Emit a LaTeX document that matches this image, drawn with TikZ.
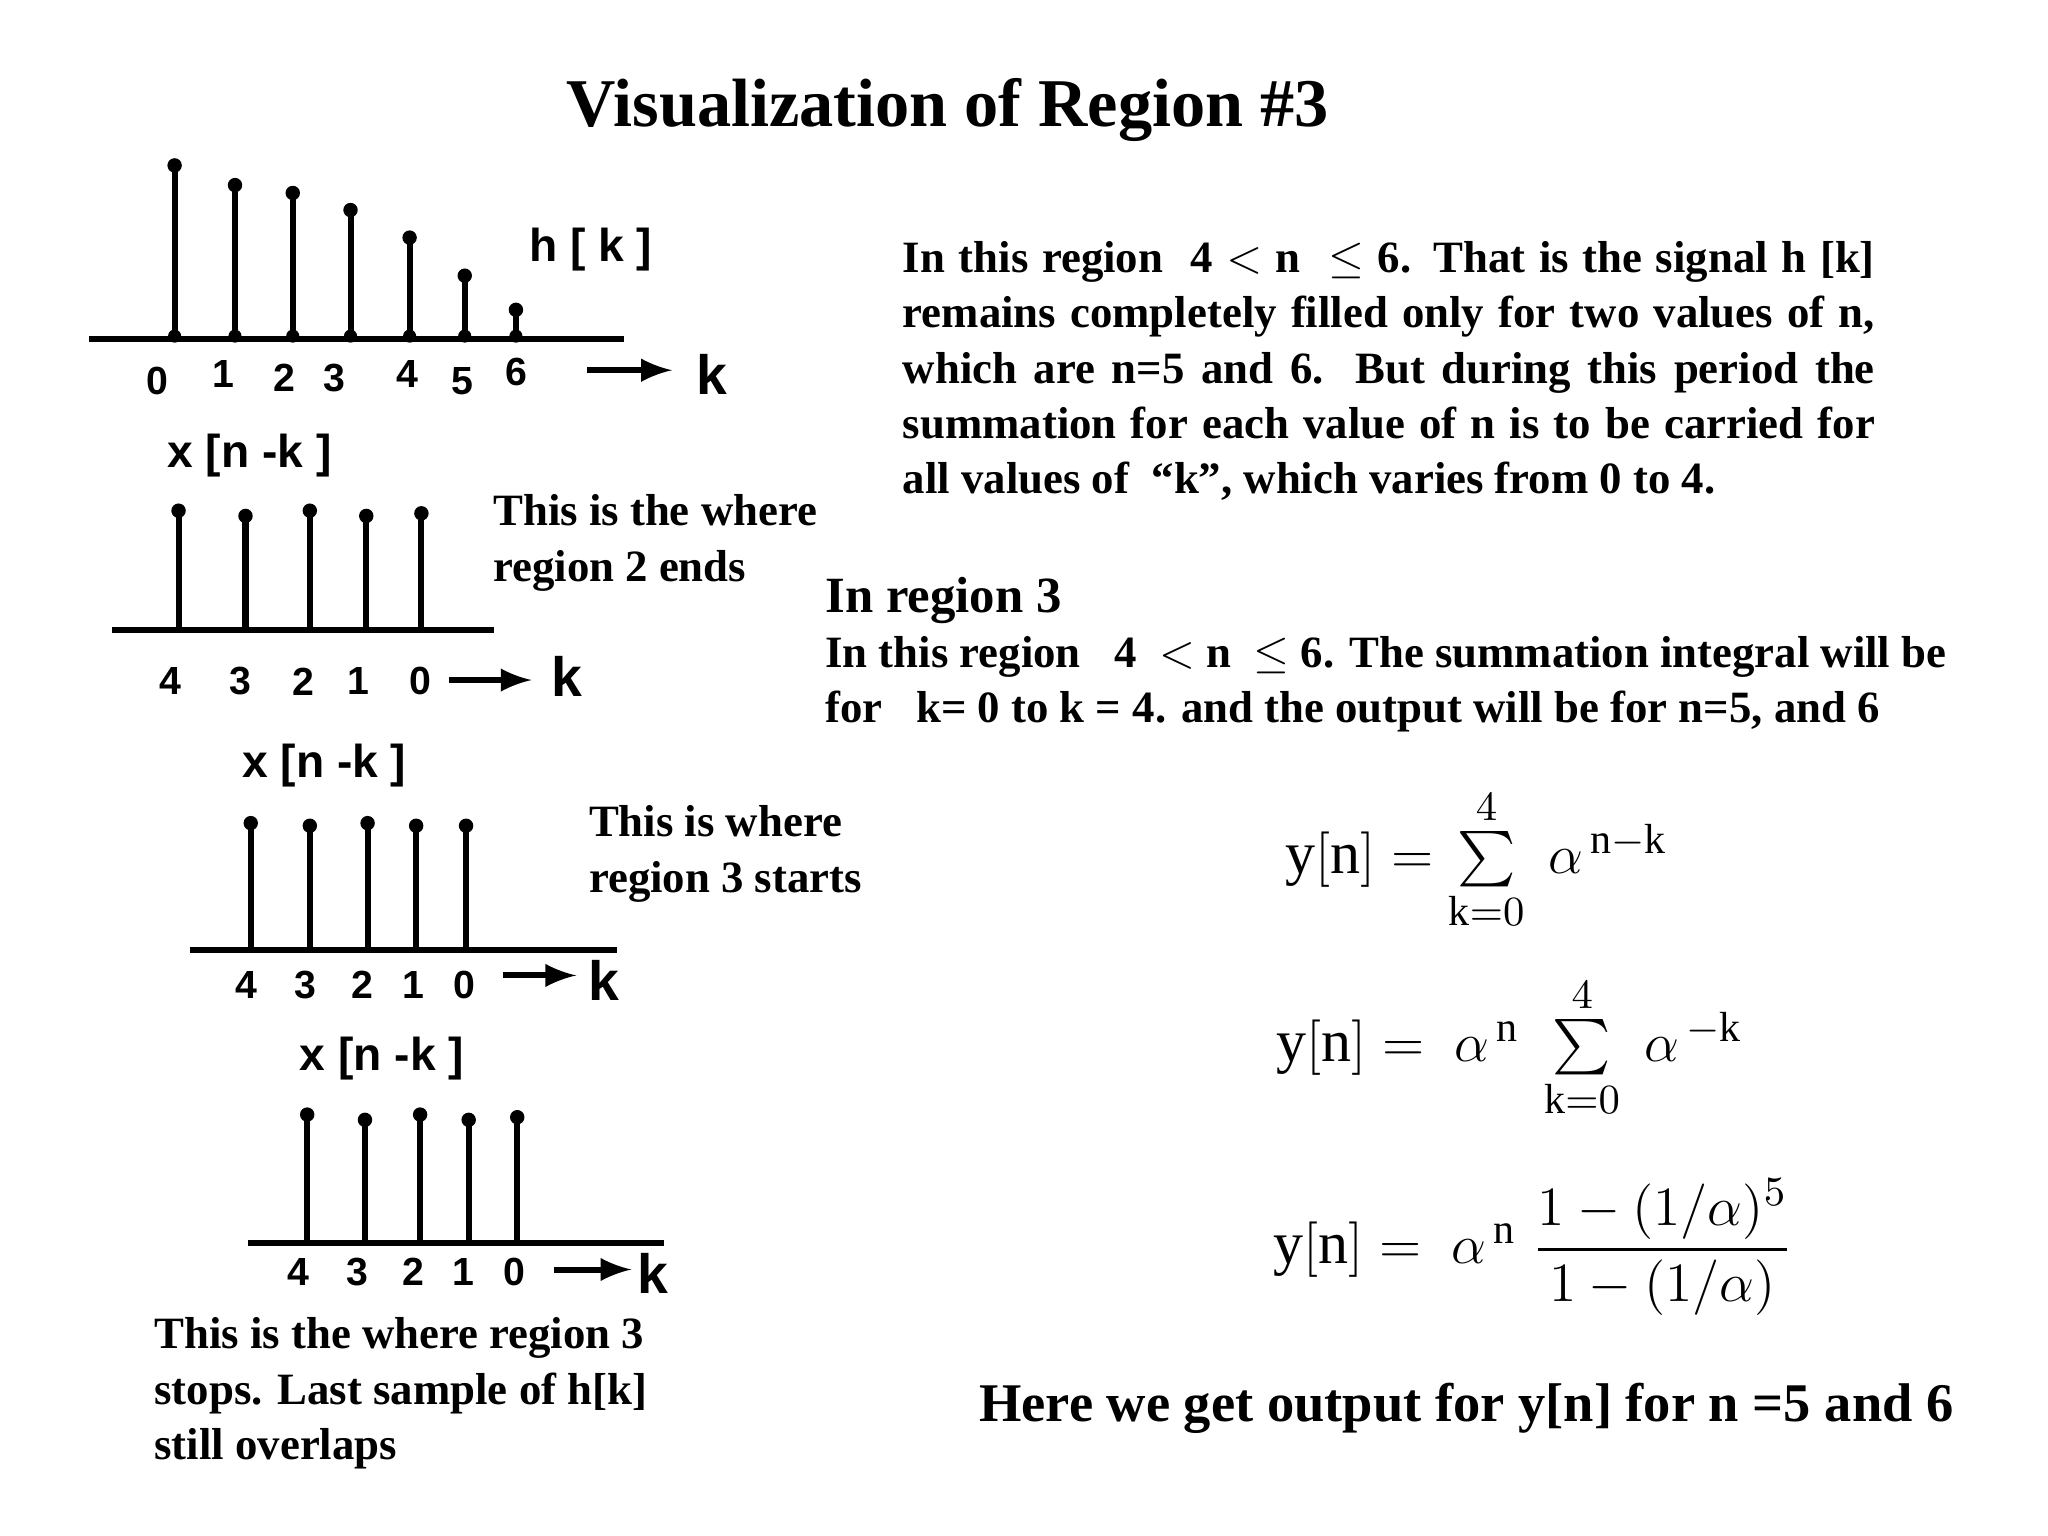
\documentclass[tikz,border=0pt]{standalone}
\usepackage{fontspec}
\setmainfont{Liberation Serif}
\setsansfont{Liberation Sans}
\usepackage{amsmath}
\begin{document}
\begin{tikzpicture}[x=0.01cm,y=-0.01cm,
  stem/.style={line width=1.3pt},
  axisline/.style={line width=1.3pt},
  arr/.style={line width=1.3pt,-latex},
  lab/.style={font=\sffamily\bfseries\fontsize{8.5}{10}\selectfont},
  klab/.style={font=\sffamily\bfseries\fontsize{12}{14}\selectfont},
  sig/.style={font=\sffamily\bfseries\fontsize{10}{12}\selectfont},
  body/.style={font=\bfseries\fontsize{9.7}{12}\selectfont,align=left,anchor=north west,inner sep=0pt},
  eq/.style={font=\fontsize{13}{16}\selectfont}]
\useasboundingbox (0,0) rectangle (1560,1170);
\node[font=\bfseries\fontsize{14.8}{18}\selectfont] (title) at (722,84) {Visualization of Region \#3};
% plot 1
\draw[axisline] (68,258) coordinate (a1) -- (475,258) coordinate (b1);
\foreach \x/\t in {133/126,179/141,223/147,267/160,312/181,354/210,393/236}{
  \draw[stem] (\x,258) -- (\x,\t);
  \fill (\x,\t) circle (5.5); \fill (\x,256) circle (5);}
\foreach \x/\y/\l in {120/290/0,170/285/1,217/288/2,255/288/3,310/285/4,352/290/5,393/283/6}
  \node[lab] at (\x,\y) {\l};
\coordinate (p1) at (447,282); \coordinate (q1) at (512,282);
\draw[arr] (p1) -- (q1);
\node[klab] (k1) at (542,285) {k};
\node[sig] (h) at (450,190) {h [ k ]};
% plot 2
\node[sig] (x2) at (190,347) {x [n -k ]};
\draw[axisline] (85,480) -- (376,480);
\foreach \x/\t in {136/389,187/393,236/389,279/393,321/391}{
  \draw[stem] (\x,480) -- (\x,\t); \fill (\x,\t) circle (5.5);}
\foreach \x/\l in {130/4,183/3,231/2,273/1,320/0} \node[lab] at (\x,519) {\l};
\coordinate (p2) at (342,518); \coordinate (q2) at (405,518);
\draw[arr] (p2) -- (q2);
\node[klab] (k2) at (432,515) {k};
% plot 3
\node[sig] (x3) at (247,583) {x [n -k ]};
\draw[axisline] (145,724) -- (470,724);
\foreach \x/\t in {191/627,236/629,280/627,317/629,355/629}{
  \draw[stem] (\x,724) -- (\x,\t); \fill (\x,\t) circle (5.5);}
\foreach \x/\l in {188/4,233/3,276/2,315/1,354/0} \node[lab] at (\x,750) {\l};
\coordinate (p3) at (383,743); \coordinate (q3) at (439,743);
\draw[arr] (p3) -- (q3);
\node[klab] (k3) at (460,747) {k};
% plot 4
\node[sig] (x4) at (291,806) {x [n -k ]};
\draw[axisline] (189,947) -- (506,947);
\foreach \x/\t in {234/849,278/853,320/849,357/853,394/851}{
  \draw[stem] (\x,947) -- (\x,\t); \fill (\x,\t) circle (5.5);}
\foreach \x/\l in {227/4,272/3,315/2,353/1,392/0} \node[lab] at (\x,969) {\l};
\coordinate (p4) at (422,967); \coordinate (q4) at (481,967);
\draw[arr] (p4) -- (q4);
\node[klab] (k4) at (497,970) {k};
% texts
\node[body] (t1) at (375,376) {This is the where\\region 2 ends};
\node[body] (t2) at (448,613) {This is where\\region 3 starts};
\node[body] (t3) at (117,1003) {This is the where region 3\\stops. Last sample of h[k]\\still overlaps};
\node[body,text width=7.4cm,align=justify] (par) at (687,183) {In this region\ \ 4\ $<$ n\ \ $\leq$ 6. That is the signal h [k]\linebreak remains completely filled only for two values of n,\linebreak which are n=5 and 6. But during this period the\linebreak summation for each value of n is to be carried for\linebreak all values of\ \ ``k'', which varies from 0 to 4.};
\node[body,font=\bfseries\fontsize{11}{14}\selectfont] (r3) at (628,439) {In region 3};
\node[body] (r3t) at (628,484) {In this region\ \ \ 4\ \ $<$ n\ \ $\leq$ 6. The summation integral will be\\for\ \ \ k= 0 to k = 4. and the output will be for n=5, and 6};
\node[eq] (e1) at (1125,655) {$\mathrm{y[n]}=\sum\limits_{\mathrm{k}=0}^{4}\ \alpha^{\,\mathrm{n-k}}$};
\node[eq] (e2) at (1150,798) {$\mathrm{y[n]}=\ \alpha^{\,\mathrm{n}}\ \sum\limits_{\mathrm{k}=0}^{4}\ \alpha^{\,\mathrm{-k}}$};
\node[eq] (e3) at (1168,950) {$\mathrm{y[n]}=\ \alpha^{\,\mathrm{n}}\ \dfrac{1-(1/\alpha)^{5}}{1-(1/\alpha)}$};
\node[font=\bfseries\fontsize{11.8}{14}\selectfont] (fin) at (1117,1073) {Here we get output for y[n] for n =5 and 6};
\end{tikzpicture}
\end{document}
